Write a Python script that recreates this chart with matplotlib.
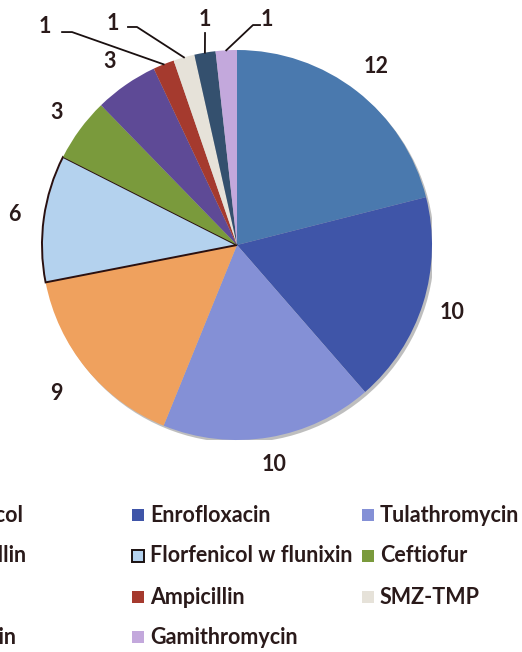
import matplotlib
matplotlib.use("Agg")
import matplotlib.pyplot as plt
import numpy as np
from matplotlib.patches import Rectangle, Circle

# ---- data ----
drugs = ["Florfenicol", "Enrofloxacin", "Tulathromycin", "Amoxicillin",
         "Florfenicol w flunixin", "Ceftiofur", "Tylosin", "Ampicillin",
         "SMZ-TMP", "Tilmicosin", "Gamithromycin"]
counts = [12, 10, 10, 9, 6, 3, 3, 1, 1, 1, 1]
colors = ["#4A79AE", "#3F55A8", "#8490D6", "#EFA15E", "#B4D2EE", "#7A9A3C",
          "#5E4A96", "#A53A2E", "#E6E2D9", "#34506E", "#C3A8DC"]

TXT = "#2a1a1a"
FONT = "Lato"
FS = 15.5

W, H = 522, 652
fig = plt.figure(figsize=(W / 100, H / 100), dpi=100)
fig.patch.set_facecolor("white")

cx, cy, R = 237, 245, 195
ax = fig.add_axes([(cx - R) / W, (H - cy - R) / H, 2 * R / W, 2 * R / H])

# subtle shadow
ax.add_patch(Circle((0.012, -0.014), 1.0, color="#8a8a8a", alpha=0.55, zorder=0, lw=0))

wedges, _ = ax.pie(counts, colors=colors, startangle=90, counterclock=False,
                   radius=1, wedgeprops=dict(linewidth=0))
for w in wedges:
    w.set_zorder(1)
# outlined wedge (Florfenicol w flunixin)
wedges[4].set_edgecolor("#2a1010")
wedges[4].set_linewidth(1.4)

ax.set_xlim(-1, 1)
ax.set_ylim(-1, 1)
ax.set_aspect("equal")
ax.axis("off")

def mid_angle(w):
    return np.deg2rad((w.theta1 + w.theta2) / 2)

# labels for the larger slices
label_r = [1.16, 1.155, 1.14, 1.2, 1.153, 1.148, 1.146]
for i, r in enumerate(label_r):
    a = mid_angle(wedges[i])
    ax.text(r * np.cos(a), r * np.sin(a), str(counts[i]), ha="center", va="center",
            fontsize=FS, fontweight="bold", color=TXT, family=FONT, clip_on=False)

# labels with leader lines for the small slices
small_labels = [(-0.985, 1.118), (-0.636, 1.138), (-0.164, 1.154), (0.154, 1.154)]
leader_start = [[(-0.897, 1.092), (-0.846, 1.092)],
                [(-0.559, 1.118), (-0.513, 1.118)],
                [(-0.164, 1.087)],
                [(0.118, 1.128), (0.082, 1.128)]]
for k, (pos, pts) in enumerate(zip(small_labels, leader_start)):
    i = 7 + k
    ax.text(pos[0], pos[1], str(counts[i]), ha="center", va="center",
            fontsize=FS, fontweight="bold", color=TXT, family=FONT, clip_on=False)
    a = mid_angle(wedges[i])
    xs = [p[0] for p in pts] + [1.0 * np.cos(a)]
    ys = [p[1] for p in pts] + [1.0 * np.sin(a)]
    ax.plot(xs, ys, color="#1a1010", lw=1.3, clip_on=False, zorder=3)

# ---- legend (3 columns, row-major) ----
col_x = [-98, 132, 362]
row_y = [515, 556, 597, 637]
sq = 12
for i, name in enumerate(drugs):
    r, c = divmod(i, 3)
    x0, y0 = col_x[c], row_y[r]
    ec = "#1a1010" if i == 4 else colors[i]
    lw = 1.4 if i == 4 else 0
    fig.add_artist(Rectangle((x0 / W, (H - y0 - sq / 2) / H), sq / W, sq / H,
                             transform=fig.transFigure, facecolor=colors[i],
                             edgecolor=ec, linewidth=lw))
    fig.text((x0 + sq + 6) / W, (H - y0) / H, name, ha="left", va="center",
             fontsize=FS, fontweight="bold", color=TXT, family=FONT)

fig.savefig("out.png", dpi=100, facecolor="white")
